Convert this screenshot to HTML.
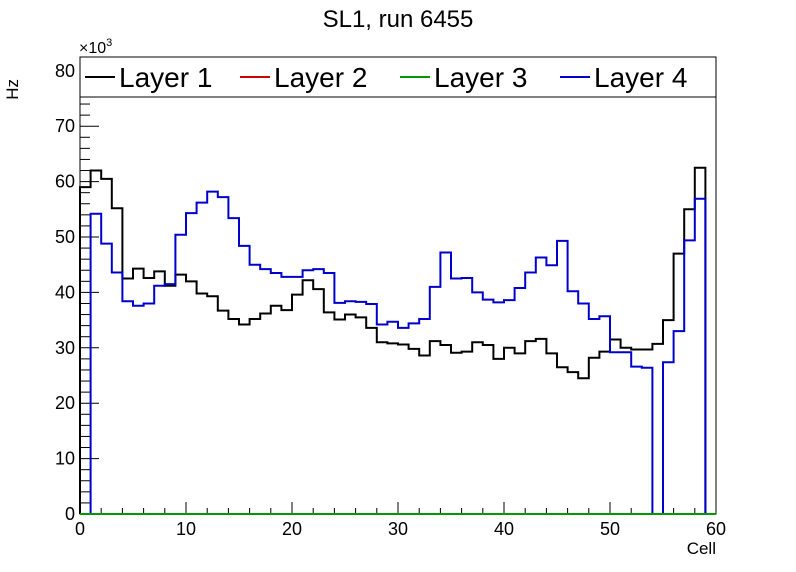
<!DOCTYPE html>
<html><head><meta charset="utf-8"><style>
html,body{margin:0;padding:0;background:#fff;}
svg{display:block;font-family:"Liberation Sans",sans-serif;}
</style></head><body>
<svg id="chart" width="796" height="572" viewBox="0 0 796 572" xmlns="http://www.w3.org/2000/svg">
<rect x="0" y="0" width="796" height="572" fill="#fff"/>
<text x="398" y="27" font-size="24" text-anchor="middle">SL1, run 6455</text>
<g id="axes"></g>
<g id="series"></g>
<g id="legend"></g>
</svg>
<script>
const layer1 = [59,62,60.5,55.2,42.5,44.3,42.6,43.8,41.2,43.2,42,39.8,39.3,36.7,35.2,34.2,35.2,36.2,37.6,36.8,39.6,42.2,40.6,36.4,35.1,36,35.5,33.6,31,30.8,30.6,29.8,28.6,31.2,30.5,29.1,29.3,31,30.5,28,30,29,31.2,31.6,29,26.5,25.6,24.5,28.2,29.3,31.5,30,29.7,29.7,30.7,35,47,55,62.5,0];
const layer2 = new Array(60).fill(0);
const layer3 = new Array(60).fill(0);
const layer4 = [0,54.2,48.8,43.6,38.4,37.6,38,41.2,41.5,50.4,54.3,56.2,58.2,57.2,53.4,48.4,45,44.2,43.5,42.8,42.8,44,44.2,43.5,38.1,38.4,38.3,37.9,34.2,34.7,33.6,34.4,35.2,41,47.2,42.5,42.6,40,38.7,38.2,38.6,40.8,43.6,46.3,44.9,49.3,40.2,38,35.2,35.7,29.2,29.2,26.6,26.4,0,27.4,33,49.4,56.9,0];
const xTicks = [0,10,20,30,40,50,60];
const yTicks = [0,10,20,30,40,50,60,70,80];
const seriesNames = ["Layer 1","Layer 2","Layer 3","Layer 4"];
const seriesColors = ["#000000","#cc0000","#009900","#0000cc"];

const NS="http://www.w3.org/2000/svg";
const X0=80,X1=716,Y0=514,YT=57;
const xMin=0,xMax=60,yMin=0,yMax=(514-57)/5.54;
function sx(v){return X0+(v-xMin)/(xMax-xMin)*(X1-X0);}
function sy(v){return Y0-(v-yMin)/(yMax-yMin)*(Y0-YT);}
function mk(tag,attrs,parent){const e=document.createElementNS(NS,tag);for(const k in attrs)e.setAttribute(k,attrs[k]);parent.appendChild(e);return e;}
const axes=document.getElementById('axes'),ser=document.getElementById('series'),leg=document.getElementById('legend');

const fr=mk('rect',{x:X0,y:YT,width:X1-X0,height:Y0-YT,fill:'none',stroke:'#000','stroke-width':1},axes);



for(let v=0;v<=60;v+=2){
  const major=v%10===0;
  const t=mk('line',{x1:sx(v),x2:sx(v),y1:Y0,y2:Y0-(major?12:6),stroke:'#000','stroke-width':1},axes);
  
  
}
xTicks.forEach(v=>{
  const t=mk('text',{x:sx(v),y:Y0+21,'font-size':18,'text-anchor':'middle'},axes);
  t.textContent=String(v);
  
  
});
for(let v=0;v<=82;v+=2){
  const major=v%10===0;
  const t=mk('line',{x1:X0,x2:X0+(major?19:10),y1:sy(v),y2:sy(v),stroke:'#000','stroke-width':1},axes);
  
  
}
yTicks.forEach(v=>{
  const t=mk('text',{x:X0-5,y:sy(v)+6,'font-size':18,'text-anchor':'end'},axes);
  t.textContent=String(v);
  
  
});
const xl=mk('text',{x:716,y:554,'font-size':17,'text-anchor':'end'},axes);
xl.textContent='Cell';


const yl=mk('text',{x:18,y:79,'font-size':17,'text-anchor':'end',transform:'rotate(-90 18 79)'},axes);
yl.textContent='Hz';


const ex=mk('text',{x:79,y:53,'font-size':16},axes);
ex.innerHTML='×10<tspan dy="-7" font-size="11">3</tspan>';



function stepPath(vals){
  let d='M'+sx(0)+','+sy(0);
  vals.forEach((v,i)=>{d+=' L'+sx(i)+','+sy(v)+' L'+sx(i+1)+','+sy(v);});
  d+=' L'+sx(vals.length)+','+sy(0);
  return d;
}
[layer1,layer2,layer4,layer3].forEach((vals,k)=>{
  const idx=[0,1,3,2][k];
  const p=mk('path',{d:stepPath(vals),fill:'none',stroke:seriesColors[idx],'stroke-width':2},ser);
  
  
});

const lb=mk('rect',{x:X0,y:57,width:X1-X0,height:40,fill:'#fff',stroke:'#000','stroke-width':1},leg);


const lx=[85,240,400,560];
seriesNames.forEach((n,i)=>{
  const g=mk('g',{},leg);
  
  
  mk('line',{x1:lx[i],x2:lx[i]+30,y1:77,y2:77,stroke:seriesColors[i],'stroke-width':2},g);
  const t=mk('text',{x:lx[i]+34,y:87,'font-size':28},g);
  t.textContent=n;
});
</script>
</body></html>
